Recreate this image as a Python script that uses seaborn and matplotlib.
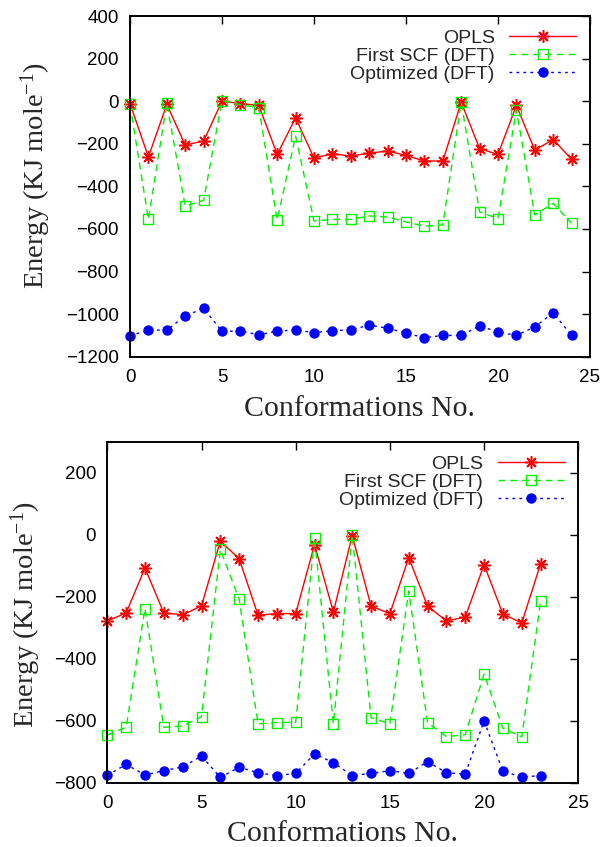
import matplotlib
matplotlib.use("Agg")
import matplotlib.pyplot as plt
import seaborn as sns
import pandas as pd

# ---- data: top panel ----
top_x = list(range(25))
top_opls = [-11, -262, -15, -206, -187, 0, -11, -20, -250, -78, -267, -247, -258, -244,
            -234, -255, -281, -281, -5, -223, -250, -20, -230, -180, -273]
top_scf = [-15, -555, -9, -492, -466, 3, -17, -31, -558, -164, -563, -555, -555, -539,
           -544, -567, -587, -581, -5, -520, -551, -42, -534, -480, -573]
top_opt = [-1102, -1075, -1075, -1008, -973, -1080, -1080, -1097, -1080, -1074, -1087,
           -1078, -1074, -1052, -1066, -1089, -1111, -1100, -1100, -1055, -1084, -1100,
           -1060, -994, -1100]

# ---- data: bottom panel ----
bot_x = list(range(24))
bot_opls = [-278, -252, -107, -252, -258, -229, -20, -77, -259, -254, -254, -31, -249,
            -2, -230, -254, -73, -230, -278, -265, -96, -256, -284, -93]
bot_scf = [-646, -621, -238, -621, -617, -587, -47, -208, -610, -606, -605, -9, -610,
           0, -590, -610, -181, -606, -651, -645, -449, -624, -652, -214]
bot_opt = [-776, -741, -775, -761, -749, -714, -783, -750, -768, -777, -770, -707, -735,
           -777, -770, -761, -770, -732, -768, -772, -601, -763, -782, -777]

labels = ["OPLS", "First SCF (DFT)", "Optimized (DFT)"]
xticks = [0, 5, 10, 15, 20, 25]
top_yticks = list(range(-1200, 401, 200))
bot_yticks = list(range(-800, 201, 200))

sns.set_style("white")
plt.rcParams["font.family"] = ["Liberation Sans", "DejaVu Sans"]
plt.rcParams["mathtext.fontset"] = "custom"
plt.rcParams["mathtext.rm"] = "Liberation Serif"
plt.rcParams["mathtext.it"] = "Liberation Serif:italic"

fig = plt.figure(figsize=(6.05, 8.47), dpi=100)
ax1 = fig.add_axes([130 / 605, (847 - 356.7) / 847, 460 / 605, 340.7 / 847])
ax2 = fig.add_axes([107.3 / 605, (847 - 782.7) / 847, 471 / 605, 340.7 / 847])

RED, GREEN, BLUE = "#ff0000", "#00f000", "#0000ff"


def draw(ax, x, opls, scf, opt, ylim, yticks, ylab_xy, xlabpad):
    sns.lineplot(x=x, y=opls, ax=ax, color=RED, lw=1.0, marker=(8, 2, 0), ms=9,
                 mew=1.1, mec=RED, label=labels[0], clip_on=False, linestyle="-")
    sns.lineplot(x=x, y=scf, ax=ax, color=GREEN, lw=1.0, marker="s", ms=7,
                 mew=1.0, mfc="none", mec=GREEN, label=labels[1], clip_on=False,
                 linestyle=(0, (5, 3.5)))
    sns.lineplot(x=x, y=opt, ax=ax, color=BLUE, lw=1.0, marker="o", ms=7.5,
                 mew=0, mfc=BLUE, label=labels[2], clip_on=False,
                 linestyle=(0, (2, 3)))
    ax.set_xlim(0, 25)
    ax.set_ylim(*ylim)
    ax.set_xticks(xticks)
    ax.set_yticks(yticks)
    ax.tick_params(direction="in", length=6, width=1.0, top=True, right=True,
                   labelsize=13.5, colors="black")
    ax.tick_params(axis="y", pad=8)
    ax.tick_params(axis="x", pad=9)
    for s in ax.spines.values():
        s.set_linewidth(1.4)
        s.set_color("black")
    ax.set_xlabel("Conformations No.", family="Liberation Serif", fontsize=21.5,
                  labelpad=xlabpad)
    ax.set_ylabel("Energy (KJ mole$^{-1}$)", family="Liberation Serif", fontsize=20.5)
    ax.yaxis.set_label_coords(*ylab_xy)
    leg = ax.legend(loc="upper right", frameon=False, markerfirst=False, fontsize=14,
                    handlelength=3.45, handletextpad=0.75, labelspacing=0.02,
                    borderaxespad=0.4, borderpad=0.3)
    return leg


draw(ax1, top_x, top_opls, top_scf, top_opt, (-1200, 400), top_yticks, (-0.167, 0.533), 7)
draw(ax2, bot_x, bot_opls, bot_scf, bot_opt, (-800, 300), bot_yticks, (-0.137, 0.495), 6)

fig.savefig("out.png", dpi=100)
